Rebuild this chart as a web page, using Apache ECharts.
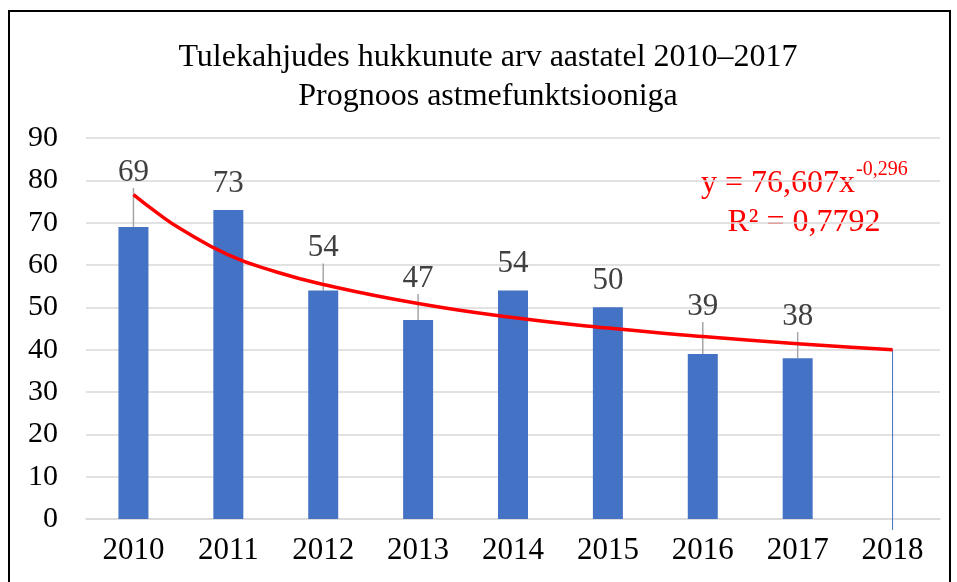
<!DOCTYPE html>
<html>
<head>
<meta charset="utf-8">
<title>Tulekahjudes hukkunute arv</title>
<script src="https://cdn.jsdelivr.net/npm/echarts@6/dist/echarts.min.js"></script>
<style>
  html, body { margin: 0; padding: 0; background: #fff; }
  #chart { width: 957px; height: 582px; }
</style>
</head>
<body>
<div id="chart"></div>
<script>
// aastad (kategooriad)
var years = ["2010", "2011", "2012", "2013", "2014", "2015", "2016", "2017", "2018"];
// hukkunute arv, 2018 puudub
var deaths = [69, 73, 54, 47, 54, 50, 39, 38, "-"];
// trendijoon (astmefunktsioon), loetud pildilt; x = aasta järjekorranumber (0 = 2010)
var trendX = [0, 0.25, 0.5, 1, 1.5, 2, 3, 4, 5, 6, 7, 8];
var trendY = [76.6, 72.3, 68.5, 62.4, 58.4, 55.4, 50.9, 47.6, 45.1, 43.1, 41.4, 40.0];
// prognoosiaasta püstjoon
var forecastDrop = [[8, 40.0]];
// kui palju silt tulba kohalt ülespoole nihutatud (px)
var labelLift = [28, 0, 16, 15, 0, 0, 21, 15, 0];

var serif = "Liberation Serif, Times New Roman, serif";
var myChart = echarts.init(document.getElementById("chart"));

var barData = deaths.map(function (v, i) {
  return { value: v, labelLine: { show: labelLift[i] > 0 } };
});
var trendData = trendX.map(function (x, i) {
  return [x, trendY[i]];
});

var option = {
  animation: false,
  grid: { left: 86, right: 17, top: 138, bottom: 63, containLabel: false },
  xAxis: [
    {
      type: "category",
      data: years,
      axisTick: { show: false },
      axisLine: { show: true, lineStyle: { color: "#d9d9d9", width: 1.5 } },
      axisLabel: { color: "#000", fontFamily: serif, fontSize: 31, margin: 16 }
    },
    {
      // peidetud arvtelg trendijoone jaoks, kategooriate keskpunktid = 0..8
      type: "value",
      min: -0.5,
      max: 8.5,
      show: false
    }
  ],
  yAxis: {
    type: "value",
    min: 0,
    max: 90,
    interval: 10,
    axisLine: { show: false },
    axisTick: { show: false },
    axisLabel: { color: "#000", fontFamily: serif, fontSize: 30, margin: 28 },
    splitLine: { lineStyle: { color: "#d9d9d9", width: 1.5 } }
  },
  series: [
    {
      type: "bar",
      data: barData,
      barWidth: 30,
      itemStyle: { color: "#4472c4" },
      label: {
        show: true,
        position: "top",
        distance: 11,
        color: "#404040",
        fontFamily: serif,
        fontSize: 31
      },
      labelLine: { show: true, lineStyle: { color: "#a6a6a6", width: 1.5 } },
      labelLayout: function (params) {
        return { dy: -labelLift[params.dataIndex] };
      }
    },
    {
      type: "line",
      xAxisIndex: 1,
      data: trendData,
      smooth: true,
      symbol: "none",
      lineStyle: { color: "#ff0000", width: 3.5 },
      z: 5
    },
    {
      // 2018 püstjoon trendi lõpust telje alla
      type: "custom",
      data: forecastDrop,
      clip: false,
      z: 4,
      renderItem: function (params, api) {
        var top = api.coord([api.value(0), api.value(1)]);
        var base = api.coord([api.value(0), 0]);
        return {
          type: "line",
          shape: { x1: top[0], y1: top[1], x2: base[0], y2: base[1] + 11 },
          style: { stroke: "#4472c4", lineWidth: 1 }
        };
      }
    }
  ],
  graphic: [
    {
      type: "rect",
      shape: { x: 9, y: 11, width: 941, height: 620 },
      style: { fill: "none", stroke: "#000", lineWidth: 2 },
      silent: true
    },
    {
      type: "text",
      style: {
        x: 488, y: 38,
        text: "Tulekahjudes hukkunute arv aastatel 2010–2017\nPrognoos astmefunktsiooniga",
        font: "32px " + serif,
        lineHeight: 39,
        fill: "#000",
        align: "center"
      }
    },
    {
      type: "text",
      style: {
        x: 855, y: 168,
        text: "y = 76,607x",
        font: "32px " + serif,
        fill: "#ff0000",
        align: "right",
        verticalAlign: "alphabetic"
      }
    },
    {
      type: "text",
      style: {
        x: 856, y: 160,
        text: "-0,296",
        font: "20px " + serif,
        fill: "#ff0000",
        align: "left",
        verticalAlign: "alphabetic"
      }
    },
    {
      type: "text",
      style: {
        x: 804, y: 207,
        text: "R² = 0,7792",
        font: "32px " + serif,
        fill: "#ff0000",
        align: "center",
        verticalAlign: "alphabetic"
      }
    }
  ]
};

myChart.setOption(option);
window.addEventListener("resize", function () {
  myChart.resize();
});
</script>
</body>
</html>
